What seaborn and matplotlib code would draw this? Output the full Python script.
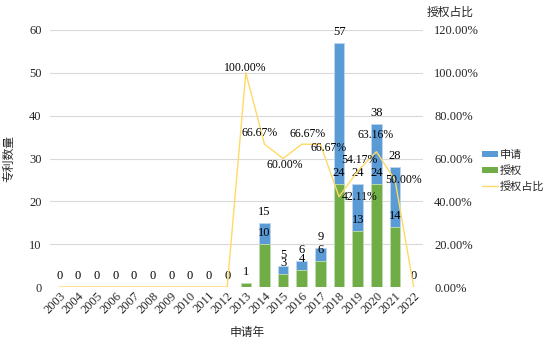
import numpy as np
import pandas as pd
import matplotlib
matplotlib.use("Agg")
import matplotlib.pyplot as plt
import seaborn as sns
from matplotlib.patches import Patch
from matplotlib.lines import Line2D
from matplotlib.ticker import FuncFormatter, MultipleLocator

# ---- data ----
years = [str(y) for y in range(2003, 2023)]
applications = [0, 0, 0, 0, 0, 0, 0, 0, 0, 0, 1, 15, 5, 6, 9, 57, 24, 38, 28, 0]
granted = [0, 0, 0, 0, 0, 0, 0, 0, 0, 0, 1, 10, 3, 4, 6, 24, 13, 24, 14, 0]
ratio = [0, 0, 0, 0, 0, 0, 0, 0, 0, 0, 1.0, 0.6667, 0.60, 0.6667, 0.6667,
         0.4211, 0.5417, 0.6316, 0.50, 0]

# label offsets (pixels) for the ratio labels, style only
ratio_label_offsets = {10: (-1, 5), 11: (-5, 11), 12: (2, -6), 13: (6, 10),
                       14: (8, -4), 15: (21, 0), 16: (2, 11), 17: (-1, 17),
                       18: (9, 0)}

BLUE = "#5B9BD5"
GREEN = "#70AD47"
YELLOW = "#FFD966"
GRID = "#D9D9D9"
TXT = "#262626"

sns.set_theme(style="white")
plt.rcParams["font.family"] = ["Liberation Serif", "Noto Sans CJK SC"]
plt.rcParams["axes.unicode_minus"] = False
CJK = ["Noto Sans CJK SC", "Liberation Serif"]

df = pd.DataFrame({"year": years, "applications": applications,
                   "granted": granted, "ratio": ratio})

fig = plt.figure(figsize=(5.48, 3.43), dpi=100)
ax = fig.add_axes([50 / 548, 1 - 287 / 343, 373 / 548, 257 / 343])

sns.barplot(data=df, x="year", y="applications", order=years, color=BLUE,
            width=0.57, saturation=1, ax=ax, edgecolor="#BDD7EE", linewidth=0.6)
sns.barplot(data=df, x="year", y="granted", order=years, color=GREEN,
            width=0.57, saturation=1, ax=ax, edgecolor="#C5E0B4", linewidth=0.6)

ax.set_ylim(0, 60)
ax.set_xlim(-0.5, len(years) - 0.5)
ax.yaxis.set_major_locator(MultipleLocator(10))
ax.grid(axis="y", color=GRID, lw=0.8)
ax.grid(axis="x", visible=False)
ax.set_axisbelow(True)
for s in ax.spines.values():
    s.set_visible(False)
ax.tick_params(axis="both", length=0, colors=TXT)
ax.tick_params(axis="y", labelsize=9, pad=6)
ax.set_xticks(range(len(years)))
ax.set_xticklabels(years, rotation=45, ha="right", rotation_mode="anchor",
                   fontsize=9)
ax.tick_params(axis="x", pad=2)
ax.set_xlabel("申请年", family=CJK, fontsize=8.5, color=TXT)
ax.xaxis.set_label_coords((247 - 50) / 373, -(326 - 287) / 257)
ax.set_ylabel("专利数量", family=CJK, fontsize=8.5, color=TXT, labelpad=10)

# bar labels
for i, (a, g) in enumerate(zip(applications, granted)):
    ax.annotate(str(a), (i, a), xytext=(0, 11), textcoords="offset pixels",
                ha="center", va="center", fontsize=9, color="black")
    if g != a:
        ax.annotate(str(g), (i, g), xytext=(0, 11), textcoords="offset pixels",
                    ha="center", va="center", fontsize=9, color="black")

# ratio line on secondary axis
ax2 = ax.twinx()
xpos = np.arange(len(years))
sns.lineplot(x=xpos, y=ratio, ax=ax2, color=YELLOW, lw=1.0)
ax2.set_ylim(0, 1.2)
ax2.yaxis.set_major_locator(MultipleLocator(0.2))
ax2.yaxis.set_major_formatter(FuncFormatter(lambda v, p: f"{v*100:.2f}%"))
ax2.tick_params(axis="y", length=0, labelsize=9, colors=TXT, pad=8)
for s in ax2.spines.values():
    s.set_visible(False)
ax2.set_ylabel("")
ax2.grid(False)

for i, (a, r) in enumerate(zip(applications, ratio)):
    if a > 0:
        dx, dy = ratio_label_offsets.get(i, (0, 8))
        ax2.annotate(f"{r*100:.2f}%", (i, r), xytext=(dx, dy),
                     textcoords="offset pixels", ha="center", va="center",
                     fontsize=8.5, color="black")

fig.text(450 / 548, 1 - 12 / 343, "授权占比", family=CJK, fontsize=8.5,
         color=TXT, ha="center", va="center")

handles = [Patch(facecolor=BLUE, edgecolor="none"),
           Patch(facecolor=GREEN, edgecolor="none"),
           Line2D([0], [0], color=YELLOW, lw=1.0)]
fig.legend(handles, ["申请", "授权", "授权占比"], loc="center left",
           bbox_to_anchor=(481 / 548, 1 - 171 / 343), frameon=False,
           prop={"family": CJK, "size": 8}, handlelength=1.4,
           handleheight=0.5, labelspacing=0.45, handletextpad=0.2,
           borderpad=0.1, borderaxespad=0.0)

fig.savefig("out.png", dpi=100, facecolor="white")
